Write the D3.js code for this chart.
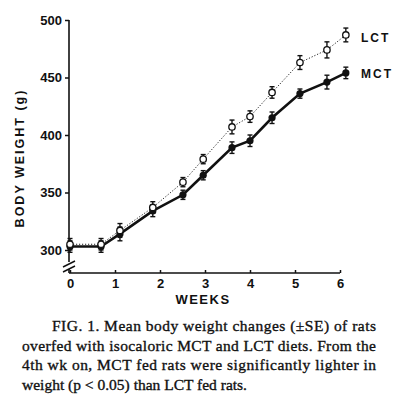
<!DOCTYPE html>
<html>
<head>
<meta charset="utf-8">
<script src="https://cdn.jsdelivr.net/npm/d3@7"></script>
<style>
  body { margin: 0; background: #fff; }
</style>
</head>
<body>
<div id="chart"></div>
<script>
const weeks = [0, 0.69, 1.11, 1.84, 2.51, 2.96, 3.6, 4.0, 4.49, 5.11, 5.71, 6.13];
const lctMean = [305, 305, 317, 337, 359, 379, 407, 416, 437, 463, 474, 487];
const lctSE = [5, 5, 6, 5, 4, 4, 6, 5, 5, 6, 7, 6];
const mctMean = [303, 303, 314, 334, 348, 365, 389, 395, 415, 436, 446, 454];
const mctSE = [5, 5, 6, 5, 4, 4, 5, 5, 5, 4, 6, 5];
const yTicks = [300, 350, 400, 450, 500];
const xTicks = [0, 1, 2, 3, 4, 5, 6];
const captionLines = [
    "FIG. 1. Mean body weight changes (±SE) of rats",
    "overfed with isocaloric MCT and LCT diets. From the",
    "4th wk on, MCT fed rats were significantly lighter in",
    "weight (p < 0.05) than LCT fed rats."
];

function renderChart() {
    const container = d3.select("#chart");
    const width = 396, height = 400;
    const axisFont = "'Liberation Sans', Arial, sans-serif";
    const serif = "'Liberation Serif', 'Times New Roman', serif";

    const svg = container.append("svg")
        .attr("width", width)
        .attr("height", height);

    const x = d3.scaleLinear().domain([0, 6]).range([70, 340]);
    const y = d3.scaleLinear().domain([300, 500]).range([250, 20]);
    const xAxisY = 273;
    const yAxisX = 69;

    // y axis with break
    const yAxis = svg.append("g")
        .attr("transform", `translate(${yAxisX},0)`)
        .call(d3.axisLeft(y).tickValues(yTicks).tickSize(4).tickSizeOuter(0).tickPadding(3));
    yAxis.select(".domain").remove();
    yAxis.selectAll(".tick line").attr("stroke", "#111").attr("stroke-width", 1.5);
    yAxis.selectAll(".tick text")
        .attr("font-family", axisFont)
        .attr("font-weight", "bold")
        .attr("font-size", 13)
        .attr("fill", "#111");

    svg.append("line")
        .attr("x1", yAxisX).attr("x2", yAxisX)
        .attr("y1", y(500)).attr("y2", 262)
        .attr("stroke", "#111").attr("stroke-width", 1.6);
    svg.append("line")
        .attr("x1", yAxisX).attr("x2", yAxisX)
        .attr("y1", 269).attr("y2", xAxisY)
        .attr("stroke", "#111").attr("stroke-width", 1.6);
    [264, 269].forEach(by => {
        svg.append("line")
            .attr("x1", yAxisX - 6).attr("y1", by + 3)
            .attr("x2", yAxisX + 6).attr("y2", by - 3)
            .attr("stroke", "#111").attr("stroke-width", 1.4);
    });

    // x axis
    const xAxis = svg.append("g")
        .attr("transform", `translate(0,${xAxisY})`)
        .call(d3.axisBottom(x).tickValues(xTicks).tickFormat(d3.format("d"))
            .tickSize(-3).tickSizeOuter(0).tickPadding(6));
    xAxis.select(".domain").attr("stroke", "#111").attr("stroke-width", 1.6)
        .attr("d", `M${yAxisX},0H${x(6)}`);
    xAxis.selectAll(".tick line").attr("stroke", "#111").attr("stroke-width", 1.5);
    xAxis.selectAll(".tick text")
        .attr("font-family", axisFont)
        .attr("font-weight", "bold")
        .attr("font-size", 13)
        .attr("fill", "#111");

    // axis titles
    svg.append("text")
        .attr("transform", "translate(24,158) rotate(-90)")
        .attr("text-anchor", "middle")
        .attr("font-family", axisFont)
        .attr("font-weight", "bold")
        .attr("font-size", 12.5)
        .attr("letter-spacing", 2)
        .attr("fill", "#111")
        .text("BODY WEIGHT (g)");

    svg.append("text")
        .attr("x", 203).attr("y", 304)
        .attr("text-anchor", "middle")
        .attr("font-family", axisFont)
        .attr("font-weight", "bold")
        .attr("font-size", 13)
        .attr("letter-spacing", 1.5)
        .attr("fill", "#111")
        .text("WEEKS");

    const lct = weeks.map((w, i) => ({ w, m: lctMean[i], se: lctSE[i] }));
    const mct = weeks.map((w, i) => ({ w, m: mctMean[i], se: mctSE[i] }));

    const line = d3.line().x(d => x(d.w)).y(d => y(d.m));

    svg.append("path")
        .datum(lct)
        .attr("d", line)
        .attr("fill", "none")
        .attr("stroke", "#222")
        .attr("stroke-width", 1)
        .attr("stroke-dasharray", "1.2,1.8");

    svg.append("path")
        .datum(mct)
        .attr("d", line)
        .attr("fill", "none")
        .attr("stroke", "#111")
        .attr("stroke-width", 2.6);

    function errorBars(data) {
        const g = svg.append("g").attr("stroke", "#111").attr("stroke-width", 1.4);
        g.selectAll("line.v").data(data).join("line")
            .attr("x1", d => x(d.w)).attr("x2", d => x(d.w))
            .attr("y1", d => y(d.m - d.se)).attr("y2", d => y(d.m + d.se));
        g.selectAll("line.t").data(data).join("line")
            .attr("x1", d => x(d.w) - 2.5).attr("x2", d => x(d.w) + 2.5)
            .attr("y1", d => y(d.m + d.se)).attr("y2", d => y(d.m + d.se));
        g.selectAll("line.b").data(data).join("line")
            .attr("x1", d => x(d.w) - 2.5).attr("x2", d => x(d.w) + 2.5)
            .attr("y1", d => y(d.m - d.se)).attr("y2", d => y(d.m - d.se));
    }
    errorBars(lct);
    errorBars(mct);

    svg.append("g").selectAll("circle").data(mct).join("circle")
        .attr("cx", d => x(d.w)).attr("cy", d => y(d.m))
        .attr("r", 3.6).attr("fill", "#111");

    svg.append("g").selectAll("circle").data(lct).join("circle")
        .attr("cx", d => x(d.w)).attr("cy", d => y(d.m))
        .attr("r", 3.2).attr("fill", "#fff")
        .attr("stroke", "#111").attr("stroke-width", 1.3);

    // series labels
    svg.append("text")
        .attr("x", 361).attr("y", 42)
        .attr("font-family", axisFont).attr("font-weight", "bold")
        .attr("font-size", 12).attr("letter-spacing", 2).attr("fill", "#111")
        .text("LCT");
    svg.append("text")
        .attr("x", 361).attr("y", 78)
        .attr("font-family", axisFont).attr("font-weight", "bold")
        .attr("font-size", 12).attr("letter-spacing", 2).attr("fill", "#111")
        .text("MCT");

    // caption, each line justified to the right margin
    const capLeft = [52, 22, 22, 22];
    const capRight = 376;
    svg.append("g").selectAll("text").data(captionLines).join("text")
        .attr("x", (d, i) => capLeft[i])
        .attr("y", (d, i) => 331 + i * 19.5)
        .attr("font-family", serif)
        .attr("font-size", 15.5)
        .attr("fill", "#111")
        .attr("stroke", "#111")
        .attr("stroke-width", 0.35)
        .attr("textLength", (d, i) => i < captionLines.length - 1 ? capRight - capLeft[i] : null)
        .attr("lengthAdjust", "spacing")
        .text(d => d);
}

renderChart();
</script>
</body>
</html>
